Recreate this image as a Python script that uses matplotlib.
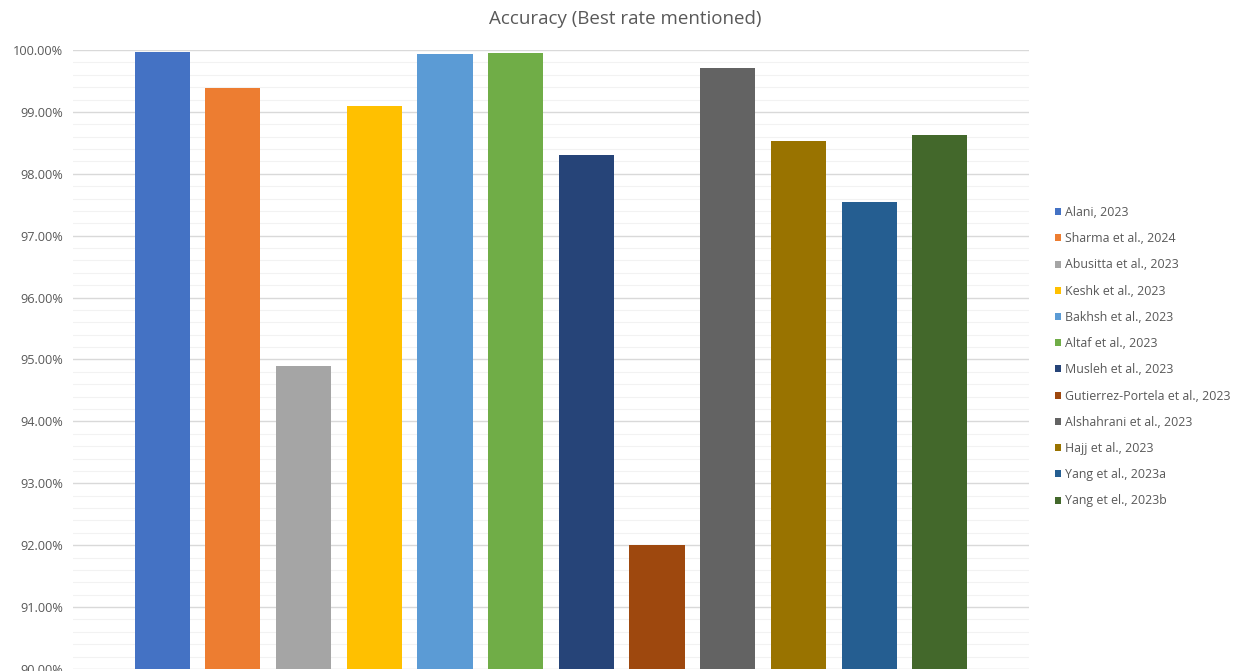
import numpy as np
import matplotlib.pyplot as plt
from matplotlib.ticker import MultipleLocator, FuncFormatter
from matplotlib.patches import Patch

plt.rcParams['font.family'] = ['Open Sans', 'DejaVu Sans']

studies = ['Alani, 2023', 'Sharma et al., 2024', 'Abusitta et al., 2023', 'Keshk et al., 2023',
           'Bakhsh et al., 2023', 'Altaf et al., 2023', 'Musleh et al., 2023',
           'Gutierrez-Portela et al., 2023', 'Alshahrani et al., 2023', 'Hajj et al., 2023',
           'Yang et al., 2023a', 'Yang et el., 2023b']
accuracy = [99.97, 99.39, 94.90, 99.10, 99.94, 99.95, 98.31, 92.01, 99.71, 98.53, 97.55, 98.63]
colors = ['#4472C4', '#ED7D31', '#A5A5A5', '#FFC000', '#5B9BD5', '#70AD47',
          '#264478', '#9E480E', '#636363', '#997300', '#255E91', '#43682B']

fig = plt.figure(figsize=(12.34, 6.71), dpi=100)
ax = fig.add_axes([73 / 1234, 0.003, 956 / 1234, 0.9225])

x = np.arange(len(studies))
ax.bar(x, accuracy, width=0.78, color=colors, zorder=3)

ax.set_ylim(90, 100)
ax.set_xlim(-1.26, 12.26)
ax.yaxis.set_major_locator(MultipleLocator(1))
ax.yaxis.set_minor_locator(MultipleLocator(0.2))
ax.yaxis.set_major_formatter(FuncFormatter(lambda v, p: f'{v:.2f}%'))
ax.grid(axis='y', which='major', color='#d9d9d9', linewidth=1.0, zorder=0)
ax.grid(axis='y', which='minor', color='#f2f2f2', linewidth=0.8, zorder=0)
ax.set_xticks([])
ax.tick_params(axis='y', which='both', length=0, labelsize=9.2, labelcolor='#595959', pad=7)
for s in ax.spines.values():
    s.set_visible(False)

fig.text(625 / 1234, 1 - 19 / 671, 'Accuracy (Best rate mentioned)', ha='center', va='center',
         fontsize=13.5, color='#595959')

handles = [Patch(facecolor=c, edgecolor='none') for c in colors]
fig.legend(handles, studies, loc='upper left', bbox_to_anchor=(1055 / 1234, 1 - 206 / 671),
           frameon=False, fontsize=8.9, labelcolor='#595959', handlelength=0.5, handleheight=0.5,
           handletextpad=0.3, labelspacing=1.07, borderaxespad=0, borderpad=0)

fig.savefig('out.png', dpi=100)
